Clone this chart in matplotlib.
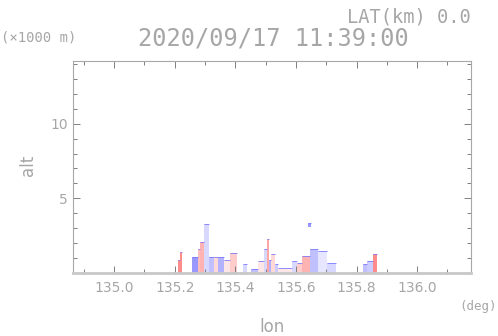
import numpy as np
import matplotlib
matplotlib.use('Agg')
import matplotlib.pyplot as plt
from matplotlib.colors import Normalize
from matplotlib.ticker import MultipleLocator, FixedLocator

# echo segments along the cross section (lon range, base/top altitude in km, value)
seg_lon0 = [135.212, 135.218, 135.258, 135.278, 135.284, 135.298, 135.314, 135.331,
            135.344, 135.364, 135.383, 135.426, 135.450, 135.476, 135.493, 135.503,
            135.512, 135.519, 135.532, 135.542, 135.588, 135.605, 135.621, 135.648,
            135.674, 135.704, 135.641, 135.823, 135.836, 135.856]
seg_lon1 = [135.218, 135.225, 135.278, 135.284, 135.298, 135.314, 135.331, 135.344,
            135.364, 135.383, 135.407, 135.440, 135.476, 135.493, 135.503, 135.512,
            135.519, 135.532, 135.542, 135.588, 135.605, 135.621, 135.648, 135.674,
            135.704, 135.731, 135.651, 135.836, 135.856, 135.866]
seg_base = [0.0] * 26 + [3.05] + [0.0] * 3
seg_top = [0.9, 1.4, 1.07, 1.6, 2.1, 3.3, 1.07, 1.07, 1.07, 0.9, 1.33, 0.6, 0.25,
           0.8, 1.6, 2.3, 0.9, 1.3, 0.6, 0.35, 0.8, 0.67, 1.13, 1.6, 1.5, 0.67,
           3.35, 0.6, 0.8, 1.27]
seg_val = [0.9, 0.9, -0.8, 0.5, 0.6, -0.3, -0.5, 0.3, -0.6, 0.2, 0.4, -0.3, -0.5,
           0.2, -0.3, 0.7, -0.6, 0.3, -0.4, 0.2, -0.3, 0.4, 0.6, -0.5, -0.2, -0.3,
           -0.8, -0.5, -0.4, 0.9]

title = '2020/09/17 11:39:00'
lat_label = 'LAT(km) 0.0'

txt = '#a6a6a6'
mono = 'DejaVu Sans Mono'
fig = plt.figure(figsize=(4.98, 3.36), dpi=100)
ax = fig.add_axes([0.1466, 0.1875, 0.7992, 0.631])

cmap = plt.get_cmap('bwr')
norm = Normalize(vmin=-2, vmax=2)
for l0, l1, b, t, v in zip(seg_lon0, seg_lon1, seg_base, seg_top, seg_val):
    ax.bar(l0, t - b, width=l1 - l0, bottom=b, align='edge',
           color=cmap(norm(v)), edgecolor='none', zorder=1)
    ax.hlines(t, l0, l1, color='#7c7cff', lw=0.6, zorder=2)

ax.set_xlim(134.864, 136.178)
ax.set_ylim(0, 14.2)
ax.xaxis.set_major_locator(MultipleLocator(0.2))
ax.xaxis.set_minor_locator(MultipleLocator(0.1))
ax.yaxis.set_major_locator(FixedLocator([5, 10]))
ax.yaxis.set_minor_locator(MultipleLocator(1))
ax.xaxis.set_major_formatter(plt.FuncFormatter(lambda v, p: f'{v:.1f}'))
ax.tick_params(which='both', direction='in', top=True, right=True,
               color='#808080', labelcolor=txt, labelsize=10, width=0.7)
ax.tick_params(which='major', length=5)
ax.tick_params(which='minor', length=3)
ax.tick_params(axis='x', pad=6)
for s in ['left', 'right', 'top']:
    ax.spines[s].set_color('#a8a8a8')
    ax.spines[s].set_linewidth(0.8)
ax.spines['bottom'].set_color('#c8c8c8')
ax.spines['bottom'].set_linewidth(2)
for s in ax.spines.values():
    s.set_zorder(3)

ax.set_xlabel('lon', color=txt, fontsize=12, va='center')
ax.xaxis.set_label_coords(0.5, -0.255)
ax.set_ylabel('alt', color=txt, fontsize=12, va='center')
ax.yaxis.set_label_coords(-0.113, 0.509)
fig.text(0.548, 0.884, title, color=txt, fontsize=17, family=mono,
         ha='center', va='center')
fig.text(0.945, 0.948, lat_label, color=txt, fontsize=13.5, family=mono,
         ha='right', va='center')
fig.text(0.003, 0.888, '(\u00d71000 m)', color=txt, fontsize=10, family=mono,
         ha='left', va='center')
fig.text(0.998, 0.089, '(deg)', color=txt, fontsize=9, family=mono,
         ha='right', va='center')

fig.savefig('out.png', dpi=100)
